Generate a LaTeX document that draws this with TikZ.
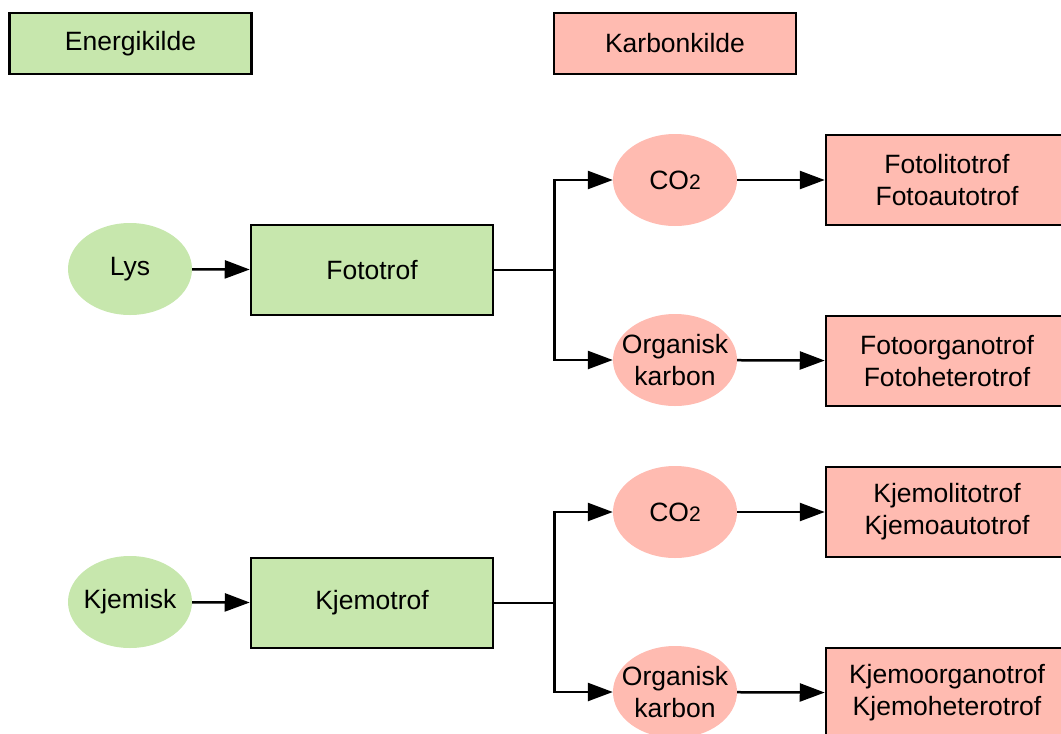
\documentclass[tikz,border=0pt]{standalone}
\usepackage{fontspec}
\setmainfont{Liberation Sans}
\usetikzlibrary{arrows.meta,shapes.geometric}
\definecolor{energi}{HTML}{C7E7AD}
\definecolor{karbon}{HTML}{FFBBB1}
\begin{document}
\begin{tikzpicture}[x=1pt,y=-1pt,
  font=\fontsize{26.5}{32}\selectfont,
  box/.style={draw, line width=2.5pt, minimum width=242pt, minimum height=90pt, align=center, inner sep=0pt},
  ell/.style={ellipse, minimum width=124pt, minimum height=92pt, inner sep=0pt},
  arr/.style={-{Triangle[length=25pt,width=18pt]}, line width=2.5pt}]
\useasboundingbox (0,0) rectangle (1061,734);
\clip (0,0) rectangle (1061,734);
% headings
\node[box, fill=energi, minimum height=61pt] (energi) at (130.5,43.5) {Energikilde};
\node[box, fill=karbon, minimum height=61pt] (karbon) at (675,43.5) {Karbonkilde};
% light
\node[ell, fill=energi, label=center:Lys] (lys) at (130,269) {};
\node[box, fill=energi] (foto) at (372,270) {Fototrof};
\node[ell, fill=karbon, label={center:CO{\fontsize{21}{22}\selectfont 2}}] (co2a) at (675,180) {};
\node[ell, fill=karbon, label={[align=center]center:{Organisk\\karbon}}] (orga) at (675,360) {};
\node[box, fill=karbon] (fotolito) at (947,180) {Fotolitotrof\\Fotoautotrof};
\node[box, fill=karbon] (fotoorg) at (947,361) {Fotoorganotrof\\Fotoheterotrof};
% chemical
\node[ell, fill=energi, label=center:Kjemisk] (kjemisk) at (130,602) {};
\node[box, fill=energi] (kjemo) at (372,603) {Kjemotrof};
\node[ell, fill=karbon, label={center:CO{\fontsize{21}{22}\selectfont 2}}] (co2b) at (675,512) {};
\node[ell, fill=karbon, label={[align=center]center:{Organisk\\karbon}}] (orgb) at (675,692) {};
\node[box, fill=karbon] (kjemolito) at (947,512) {Kjemolitotrof\\Kjemoautotrof};
\node[box, fill=karbon] (kjemoorg) at (947,693) {Kjemoorganotrof\\Kjemoheterotrof};
% connectors
\coordinate (splita) at ([xshift=60pt]foto.east);
\coordinate (splitb) at ([xshift=60pt]kjemo.east);
\draw[arr] (lys) -- (foto);
\draw[line width=2.5pt] (foto.east) -- (splita);
\draw[arr] (splita) |- (co2a);
\draw[arr] (splita) |- (orga);
\draw[arr] (co2a) -- (fotolito);
\draw[arr] (orga) -- (fotoorg);
\draw[arr] (kjemisk) -- (kjemo);
\draw[line width=2.5pt] (kjemo.east) -- (splitb);
\draw[arr] (splitb) |- (co2b);
\draw[arr] (splitb) |- (orgb);
\draw[arr] (co2b) -- (kjemolito);
\draw[arr] (orgb) -- (kjemoorg);
\end{tikzpicture}
\end{document}
